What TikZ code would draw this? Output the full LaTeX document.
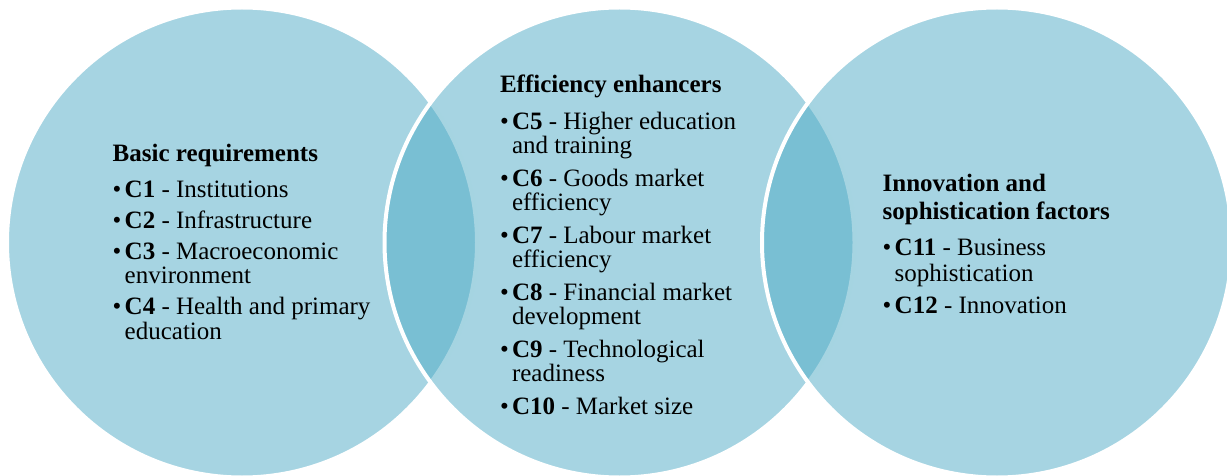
\documentclass[tikz,border=0pt]{standalone}
\usepackage{fontspec}
\setmainfont{Liberation Serif}
\definecolor{venn}{RGB}{77,170,197}
\tikzset{
  venncircle/.style={circle, minimum size=470pt, inner sep=0pt, fill=venn,
    fill opacity=0.5, draw=white, draw opacity=1, line width=4pt},
  textblock/.style={anchor=north west, inner sep=0pt, outer sep=0pt, align=left,
    font=\fontsize{25pt}{24.6pt}\selectfont, text=black},
}
\newcommand\bitem[2]{\makebox[12pt][l]{\textbullet}\textbf{#1} - #2}
\newcommand\bcont{\hspace*{12pt}}
\begin{document}
\begin{tikzpicture}[x=1pt, y=-1pt]
  \useasboundingbox (0,0) rectangle (1227,476);
  \node[venncircle] (c1) at (242,242.5) {};
  \node[venncircle] (c2) at (619.5,242.5) {};
  \node[venncircle] (c3) at (997,242.5) {};
  \node[textblock] (t1) at (112.7,143.8) {\strut\textbf{Basic requirements}\\[12pt]
    \bitem{C1}{Institutions}\\[6.1pt]
    \bitem{C2}{Infrastructure}\\[6.1pt]
    \bitem{C3}{Macroeconomic}\\
    \bcont environment\\[6.3pt]
    \bitem{C4}{Health and primary}\\
    \bcont education};
  \node[textblock] (t2) at (500,74.5) {\strut\textbf{Efficiency enhancers}\\[11.4pt]
    \bitem{C5}{Higher education}\\
    \bcont and training\\[7.8pt]
    \bitem{C6}{Goods market}\\
    \bcont efficiency\\[7.8pt]
    \bitem{C7}{Labour market}\\
    \bcont efficiency\\[7.8pt]
    \bitem{C8}{Financial market}\\
    \bcont development\\[7.8pt]
    \bitem{C9}{Technological}\\
    \bcont readiness\\[7.8pt]
    \bitem{C10}{Market size}};
  \node[textblock] (t3) at (882.7,174.5) {\strut\textbf{Innovation and}\\[2pt]
    \textbf{sophistication factors}\\[11.4pt]
    \bitem{C11}{Business}\\[1.1pt]
    \bcont sophistication\\[7pt]
    \bitem{C12}{Innovation}};
\end{tikzpicture}
\end{document}
